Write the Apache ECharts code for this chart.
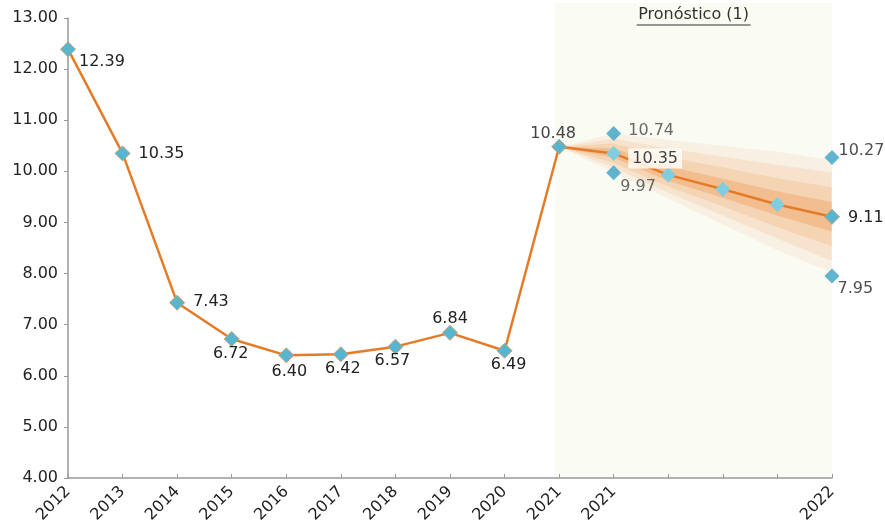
<!DOCTYPE html>
<html>
<head>
<meta charset="utf-8">
<script src="https://cdn.jsdelivr.net/npm/echarts@6/dist/echarts.min.js"></script>
<style>
  html, body { margin: 0; padding: 0; background: #ffffff; }
  #chart { width: 885px; height: 527px; }
</style>
</head>
<body>
<div id="chart"></div>
<script>
// Categories: history 2012-2021, then forecast steps through 2022
const categories = ['2012','2013','2014','2015','2016','2017','2018','2019','2020','2021','2021','','','','2022'];

// Observed values plus central forecast path
const mainValues = [12.39, 10.35, 7.43, 6.72, 6.40, 6.42, 6.57, 6.84, 6.49, 10.48, 10.35, 9.93, 9.65, 9.35, 9.11];

// Forecast range markers: [category index, value]
const rangePoints = [[10, 10.74], [10, 9.97], [14, 10.27], [14, 7.95]];

// Fan bands over indices 9..14 (inner to outer)
const fanStart = 9;
const fanUpper = [
  [10.48, 10.45, 10.10, 9.86, 9.61, 9.40],
  [10.48, 10.55, 10.28, 10.08, 9.87, 9.69],
  [10.48, 10.64, 10.45, 10.29, 10.13, 9.98],
  [10.48, 10.74, 10.62, 10.50, 10.39, 10.22]
];
const fanLower = [
  [10.48, 10.26, 9.81, 9.48, 9.13, 8.82],
  [10.48, 10.16, 9.70, 9.31, 8.90, 8.53],
  [10.48, 10.07, 9.58, 9.13, 8.68, 8.24],
  [10.48, 9.97, 9.46, 8.96, 8.45, 8.02]
];

// Y-axis ticks
const yMin = 4, yMax = 13, yStep = 1;

const chart = echarts.init(document.getElementById('chart'));

const FONT = 'DejaVu Sans, Verdana, sans-serif';
const labelFont = { fontFamily: FONT, fontSize: 16, color: '#222' };
const fmt = p => Number(Array.isArray(p.value) ? p.value[1] : p.value).toFixed(2);

// per-point label placement
const labelPos = [
  { position: 'right', offset: [-2, 13] },
  { position: 'right', offset: [3, 0] },
  { position: 'right', offset: [3, -1] },
  { position: 'bottom', offset: [-1, -6] },
  { position: 'bottom', offset: [3, -4] },
  { position: 'bottom', offset: [2, -6] },
  { position: 'bottom', offset: [-3, -7] },
  { position: 'top', offset: [0, 7] },
  { position: 'bottom', offset: [4, -7] },
  { position: 'top', offset: [-6, 8], color: '#444' },
  { position: 'right', offset: [2, 5], color: '#444', backgroundColor: 'rgba(255,253,248,0.85)', padding: [2, 4] },
  null, null, null,
  { position: 'right', offset: [3, 1] }
];

// lighter markers along the forecast path
const pathMarker = { color: '#7fcde0', borderWidth: 0 };

const mainData = mainValues.map((v, i) => {
  const lp = labelPos[i];
  const item = { value: v };
  if (i >= 10 && i <= 13) item.itemStyle = pathMarker;
  item.label = lp ? Object.assign({ show: true, formatter: fmt }, labelFont, lp) : { show: false };
  return item;
});

const rangeLabels = [
  { position: 'right', offset: [2, -3], color: '#444' },
  { position: 'right', offset: [-6, 14], color: '#444' },
  { position: 'right', offset: [-6, -7] },
  { position: 'right', offset: [-7, 13] }
];
const rangeData = rangePoints.map((p, i) => ({
  value: p,
  label: Object.assign({ show: true, formatter: fmt }, labelFont, rangeLabels[i])
}));

const bandColors = ['rgba(236,138,60,0.36)', 'rgba(238,152,80,0.22)', 'rgba(241,168,105,0.18)', 'rgba(245,185,135,0.16)'];

const fanSeries = fanUpper.map((up, b) => ({
  type: 'custom',
  silent: true,
  z: 1,
  data: [0],
  renderItem: function (params, api) {
    const pts = [];
    for (let k = 0; k < up.length; k++) pts.push(api.coord([fanStart + k, up[k]]));
    for (let k = fanLower[b].length - 1; k >= 0; k--) pts.push(api.coord([fanStart + k, fanLower[b][k]]));
    return { type: 'polygon', shape: { points: pts }, style: { fill: bandColors[b], stroke: 'rgba(255,255,255,0.35)', lineWidth: 0.6 } };
  }
}));

const option = {
  backgroundColor: '#ffffff',
  animation: false,
  grid: { left: 68, right: 53, top: 18, bottom: 49, containLabel: false },
  xAxis: {
    type: 'category',
    data: categories,
    boundaryGap: false,
    axisLine: { lineStyle: { color: '#999', width: 1.5 } },
    axisTick: { show: true, inside: true, length: 4, alignWithLabel: true, interval: 0, lineStyle: { color: '#999' } },
    axisLabel: { interval: 0, rotate: 45, margin: 11, fontFamily: FONT, fontSize: 16, color: '#222' },
    splitLine: { show: false }
  },
  yAxis: {
    type: 'value',
    min: yMin, max: yMax, interval: yStep,
    axisLine: { show: true, lineStyle: { color: '#999', width: 1.5 } },
    axisTick: { show: true, length: 4, lineStyle: { color: '#999' } },
    axisLabel: { margin: 10, fontFamily: FONT, fontSize: 16, color: '#222', formatter: v => v.toFixed(2) },
    splitLine: { show: false }
  },
  series: [
    ...fanSeries,
    {
      type: 'line',
      data: mainData,
      z: 3,
      lineStyle: { color: '#e57b27', width: 2.5 },
      symbol: 'diamond',
      symbolSize: 15,
      itemStyle: { color: '#56b6cf', borderColor: '#c9a070', borderWidth: 1 }
    },
    {
      type: 'scatter',
      data: rangeData,
      z: 4,
      symbol: 'diamond',
      symbolSize: 15,
      itemStyle: { color: '#3aa2c4' }
    }
  ]
};

chart.setOption(option);

// forecast shading and heading, placed from axis coordinates
const pLeft = chart.convertToPixel({ xAxisIndex: 0 }, 9) - 4;
const pRight = chart.convertToPixel({ xAxisIndex: 0 }, 14);
const pBottom = chart.convertToPixel({ yAxisIndex: 0 }, yMin);
const midX = (pLeft + pRight) / 2;
chart.setOption({
  graphic: [
    { type: 'rect', z: -10, silent: true, shape: { x: pLeft, y: 3, width: pRight - pLeft, height: pBottom - 3 }, style: { fill: '#fafbf3' } },
    { type: 'text', z: 10, x: midX, y: 7, style: { text: 'Pronóstico (1)', fontFamily: FONT, fontSize: 16, fill: '#333', align: 'center', verticalAlign: 'top' } },
    { type: 'line', z: 10, shape: { x1: midX - 57, y1: 25, x2: midX + 57, y2: 25 }, style: { stroke: '#333', lineWidth: 1 } }
  ]
});
</script>
</body>
</html>
